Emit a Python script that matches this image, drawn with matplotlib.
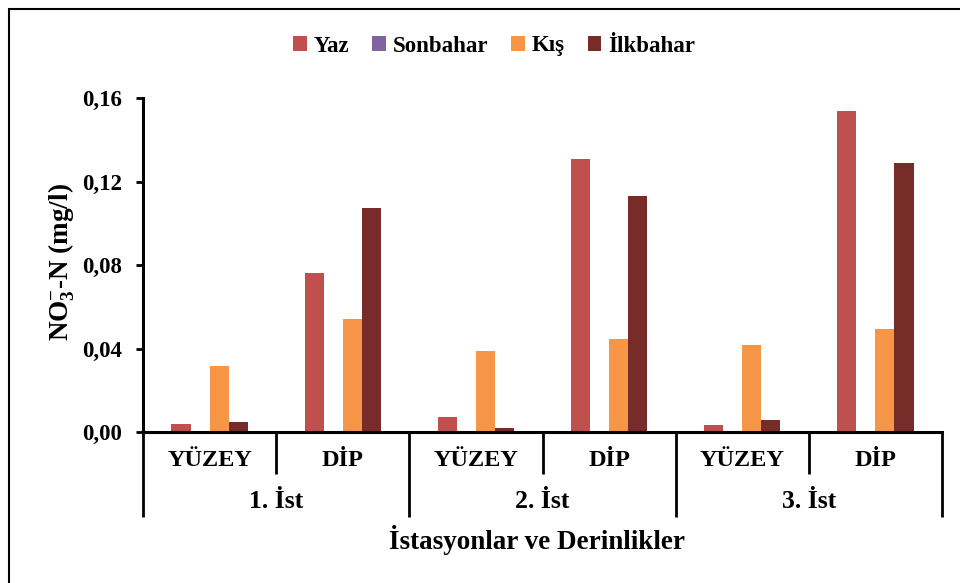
import matplotlib
matplotlib.use("Agg")
import matplotlib.pyplot as plt
import numpy as np

# NO3-N values per station / depth, one list per season
categories = ['YÜZEY', 'DİP', 'YÜZEY', 'DİP', 'YÜZEY', 'DİP']
stations = ['1. İst', '2. İst', '3. İst']
seasons = ['Yaz', 'Sonbahar', 'Kış', 'İlkbahar']
yaz = [0.0038, 0.0762, 0.0072, 0.1308, 0.0034, 0.1538]
sonbahar = [0, 0, 0, 0, 0, 0]
kis = [0.0316, 0.0541, 0.0388, 0.0446, 0.0417, 0.0493]
ilkbahar = [0.0048, 0.1073, 0.0019, 0.1131, 0.0057, 0.1289]
colors = ['#C0504D', '#8064A2', '#F79646', '#772C2A']
yticks = [0.0, 0.04, 0.08, 0.12, 0.16]

plt.rcParams['font.family'] = ['Liberation Serif', 'DejaVu Serif']
plt.rcParams['font.weight'] = 'bold'
plt.rcParams['mathtext.fontset'] = 'custom'
plt.rcParams['mathtext.rm'] = 'Liberation Serif:bold'
plt.rcParams['mathtext.default'] = 'rm'

W, H = 960, 583
fig = plt.figure(figsize=(W / 100, H / 100), dpi=100)
ax = fig.add_axes([143 / W, 1 - 432 / H, (942 - 143) / W, (432 - 98) / H])

x = np.arange(len(categories))
bw = 0.143
series = [yaz, sonbahar, kis, ilkbahar]
for i, (vals, name, c) in enumerate(zip(series, seasons, colors)):
    ax.bar(x + (i - 1.5) * bw, vals, bw, color=c, label=name, edgecolor='none')

ax.set_xlim(-0.5, len(categories) - 0.5)
ax.set_ylim(0, 0.16)
ax.set_yticks(yticks)
ax.set_yticklabels(['{:.2f}'.format(v).replace('.', ',') for v in yticks],
                   fontsize=16.5, fontweight='bold')
ax.tick_params(axis='y', direction='out', length=5, width=2, pad=10)
ax.set_xticks([])
for s in ['top', 'right']:
    ax.spines[s].set_visible(False)
ax.spines['left'].set_linewidth(2.2)
ax.spines['bottom'].set_linewidth(2.2)
ax.spines['bottom'].set_capstyle('projecting')

# category dividers below the axis
trans = ax.get_xaxis_transform()
def ypx(p):
    return (432 - p) / (432 - 98)
for k in range(len(categories) + 1):
    xe = k - 0.5
    bottom = 517 if k % 2 == 0 else 474
    ax.plot([xe, xe], [0, ypx(bottom)], color='black', lw=2,
            transform=trans, clip_on=False, solid_capstyle='butt')
for k, lab in enumerate(categories):
    ax.text(k, ypx(461), lab, transform=trans, ha='center', va='center',
            fontsize=17.5, fontweight='bold')
for k, lab in enumerate(stations):
    ax.text(2 * k + 0.5, ypx(502), lab, transform=trans, ha='center',
            va='center', fontsize=18.5, fontweight='bold')

fig.text(537 / W, 1 - 540 / H, 'İstasyonlar ve Derinlikler', ha='center',
         va='center', fontsize=19.5, fontweight='bold')
fig.text(62 / W, 1 - 262 / H, r'NO$_3^{-}$-N (mg/l)', rotation=90,
         ha='center', va='center', fontsize=19.5, fontweight='bold')

leg = fig.legend(loc='center', bbox_to_anchor=(494 / W, 1 - 46 / H), ncol=4,
                 frameon=False, prop={'size': 16.5, 'weight': 'bold'},
                 handlelength=0.6, handleheight=0.6, handletextpad=0.3,
                 columnspacing=1.0)

# outer chart frame
fig.add_artist(plt.Rectangle((9 / W, -0.05), 1.2, 1 - 9 / H + 0.05,
                             transform=fig.transFigure, fill=False,
                             edgecolor='black', lw=1.5))

fig.savefig('out.png', dpi=100)
